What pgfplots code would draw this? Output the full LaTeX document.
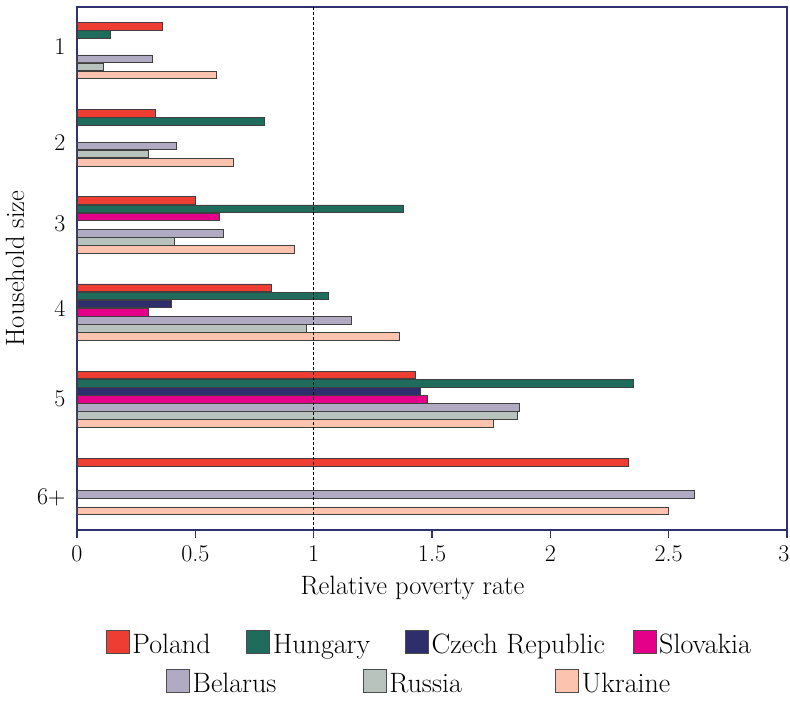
\documentclass[border=0pt]{standalone}
\usepackage{pgfplots}
\pgfplotsset{compat=1.18}
\definecolor{cPol}{HTML}{EE3D32}
\definecolor{cHun}{HTML}{1F6B5C}
\definecolor{cCze}{HTML}{2E2E6C}
\definecolor{cSlo}{HTML}{E5008A}
\definecolor{cBel}{HTML}{B1AAC3}
\definecolor{cRus}{HTML}{B9C3BD}
\definecolor{cUkr}{HTML}{FCC3AE}
\definecolor{axisc}{HTML}{2F3170}
\pgfplotsset{
  bars/.style={xbar, bar width=0.088, draw=black!75, line width=0.7pt},
  mylegend/.style={
    legend style={draw=none, fill=none, font=\fontsize{28}{32}\selectfont,
      inner xsep=0pt, nodes={inner xsep=0pt},
      /tikz/every even column/.append style={column sep=0pt},
      /tikz/every odd column/.append style={column sep=3pt}},
    legend image code/.code={\draw[##1,draw=black!70,line width=0.6pt] (0pt,-9pt) rectangle (23pt,14pt);}
  }
}
\begin{document}
\begin{tikzpicture}
\useasboundingbox (-77pt,-172pt) rectangle (713pt,530pt);
\begin{axis}[
  at={(0pt,0pt)}, anchor=south west,
  scale only axis, width=710pt, height=523pt,
  xmin=0, xmax=3, ymin=0.5, ymax=6.5,
  xtick={0,0.5,1,1.5,2,2.5,3},
  xticklabels={0,0.5,1,1.5,2,2.5,\hspace*{-6pt}3},
  ytick={0.87,2.01,3.04,4.01,4.94,6.05},
  yticklabels={6+,5,4,3,2,1},
  tick label style={font=\fontsize{24}{28}\selectfont},
  x tick label style={yshift=-4pt},
  label style={font=\fontsize{26.5}{30}\selectfont},
  xlabel={Relative poverty rate}, ylabel={Household size},
  xlabel style={at={(axis description cs:0.4725,-0.111)}, anchor=center},
  ylabel style={at={(axis description cs:-0.0873,0.5)}, anchor=center},
  axis line style={draw=axisc, line width=1.2pt},
  xtick pos=bottom, tick align=outside, major tick length=8pt,
  x tick style={draw=axisc, line width=1.5pt},
  y tick style={draw=none},
  mylegend, legend columns=4,
  legend style={at={(0.4972,-0.217)}, anchor=center},
]
\addplot[bars, fill=cPol, bar shift=0.279] coordinates {(0.36,6) (0.33,5) (0.50,4) (0.82,3) (1.43,2) (2.33,1)};
\addplot[bars, fill=cHun, bar shift=0.186] coordinates {(0.14,6) (0.79,5) (1.38,4) (1.06,3) (2.35,2)};
\addplot[bars, fill=cCze, bar shift=0.093] coordinates {(0.40,3) (1.45,2)};
\addplot[bars, fill=cSlo, bar shift=0] coordinates {(0.30,3) (1.48,2)};
\addplot[bars, fill=cSlo, bar shift=0.093, forget plot] coordinates {(0.60,4)};
\addplot[bars, fill=cBel, bar shift=-0.093, forget plot] coordinates {(0.32,6) (0.42,5) (0.62,4) (1.16,3) (1.87,2) (2.61,1)};
\addplot[bars, fill=cRus, bar shift=-0.186, forget plot] coordinates {(0.11,6) (0.30,5) (0.41,4) (0.97,3) (1.86,2)};
\addplot[bars, fill=cUkr, bar shift=-0.279, forget plot] coordinates {(0.59,6) (0.66,5) (0.92,4) (1.36,3) (1.76,2) (2.50,1)};
\addplot[sharp plot, forget plot, draw=black, line width=0.8pt, dash pattern=on 3pt off 2pt] coordinates {(1,0.5) (1,6.5)};
\legend{\makebox[114pt][l]{Poland},\makebox[132pt][l]{Hungary},\makebox[201pt][l]{Czech Republic},\makebox[95pt][l]{Slovakia}}
\end{axis}
\begin{axis}[
  at={(0pt,0pt)}, anchor=south west,
  scale only axis, width=710pt, height=523pt,
  hide axis, xmin=0, xmax=1, ymin=0, ymax=1,
  mylegend, legend columns=3,
  legend style={at={(0.4817,-0.2917)}, anchor=center},
]
\addlegendimage{fill=cBel}
\addlegendentry{\makebox[170pt][l]{Belarus}}
\addlegendimage{fill=cRus}
\addlegendentry{\makebox[166pt][l]{Russia}}
\addlegendimage{fill=cUkr}
\addlegendentry{\makebox[90pt][l]{Ukraine}}
\end{axis}
\end{tikzpicture}
\end{document}
